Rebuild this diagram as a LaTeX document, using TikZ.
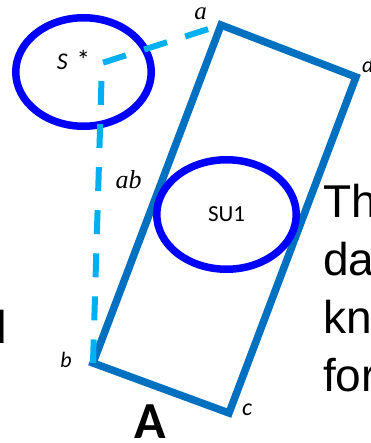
\documentclass[tikz,border=0pt]{standalone}
\usepackage{fontspec}
\setmainfont{Liberation Sans}
\newfontfamily\calibrifont{Carlito}
\newfontfamily\timesfont{Liberation Serif}
\usepackage{tikz}
\usetikzlibrary{positioning,shapes.geometric}
\definecolor{RectBlue}{HTML}{0070C0}
\definecolor{RingBlue}{HTML}{0000FF}
\definecolor{PathSky}{HTML}{00B0F0}
\newcommand{\slidefont}{\fontsize{46}{58}\selectfont}

\begin{document}
\begin{tikzpicture}[x=1pt, y=-1pt, every node/.style={inner sep=0pt, outer sep=0pt}]
    \useasboundingbox (0,0) rectangle (370,443);
    \clip (0,0) rectangle (370,443);

    % corners of the tilted rectangle A
    \coordinate (a) at (221,25);
    \coordinate (d) at (356,77);
    \coordinate (c) at (229,413);
    \coordinate (b) at (93,363);
    \coordinate (bend) at (102,63);

    \draw[RectBlue, line width=7.5pt] (a) -- (d) -- (c) -- (b) -- cycle;

    \node[draw=RingBlue, line width=7.5pt, ellipse, minimum width=135.5pt, minimum height=108.5pt] (sstar) at (83.5,72) {};
    \node[draw=RingBlue, line width=7.5pt, ellipse, minimum width=139.5pt, minimum height=109.5pt, font=\fontsize{23}{23}\selectfont\calibrifont] (su1) at (226.5,214.5) {SU1};

    \draw[PathSky, line width=6pt, dash pattern=on 24pt off 19.1pt, dash phase=29.5pt] (a) -- (bend) -- (b);

    \node[font=\fontsize{24}{24}\selectfont\calibrifont] (sstarlbl) at (73.5,60.5) {\textit{S}\hspace{9pt}{\fontsize{27}{27}\selectfont *}};
    \node[font=\fontsize{25}{25}\selectfont\timesfont\itshape] (albl) at (200.5,14) {a};
    \node[anchor=west, font=\fontsize{22}{22}\selectfont\calibrifont\itshape] (dlbl) at (362,64.5) {d};
    \node[font=\fontsize{26}{26}\selectfont\timesfont\itshape] (ablbl) at (128.5,179.5) {ab};
    \node[font=\fontsize{22}{22}\selectfont\calibrifont\itshape] (blbl) at (66,359.5) {b};
    \node[font=\fontsize{24}{24}\selectfont\calibrifont\itshape] (clbl) at (247,410) {c};
    \node[font=\fontsize{52}{52}\selectfont\calibrifont\bfseries] (titlea) at (150,421.5) {A};

    % slide text cut by the frame
    \node[anchor=base west, font=\slidefont] (linethe) at (323,217) {Th};
    \node[anchor=base west, font=\slidefont] (lineda) at (323,275) {da};
    \node[anchor=base west, font=\slidefont] (linekn) at (323,333) {kn};
    \node[anchor=base west, font=\slidefont] (linefor) at (323,391) {for};
    \node[anchor=base west, font=\slidefont] (lined) at (-18.7,343) {d};
\end{tikzpicture}
\end{document}
